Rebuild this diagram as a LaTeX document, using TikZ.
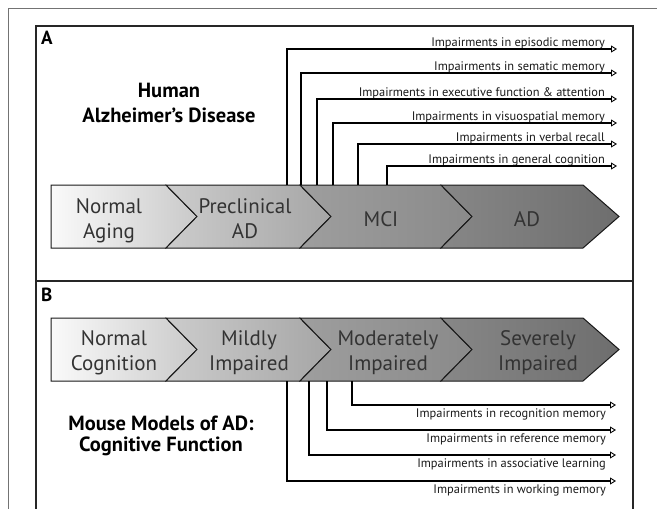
\documentclass[tikz,border=0pt]{standalone}
\usepackage{fontspec}
\setmainfont{PT Sans}
\usetikzlibrary{arrows.meta}

\begin{document}
\begin{tikzpicture}[x=1pt, y=-1pt,
    stage/.style={draw=black!90, line width=1pt},
    stage text/.style={font=\fontsize{21}{25}\selectfont, text=black!80, align=center},
    deficit/.style={font=\fontsize{12.4}{14}\selectfont, text=black!90, inner sep=0pt},
    onset/.style={line width=1.2pt, -{Triangle[open, length=6pt, width=7pt, line width=0.9pt]}},
    heading/.style={font=\bfseries\fontsize{20.5}{25}\selectfont, align=center},
    panel/.style={font=\bfseries\fontsize{19}{22}\selectfont, anchor=north west, inner sep=0pt}
  ]
  \useasboundingbox (0,0) rectangle (657,509);
  \draw[black!55, line width=1pt] (8,509) -- (8,8) -- (657,8);
  \draw[black!85, line width=1.5pt] (36,509) -- (36,26) -- (633,26) -- (633,509);
  \draw[black!85, line width=1.5pt] (36,281) -- (633,281);

  \node[panel] (panel a) at (41,31) {A};
  \node[panel] (panel b) at (41,288) {B};

  % panel A: human stages
  \path[stage, left color=black!2, right color=black!21]
    (51,185) -- (166,185) -- (197,216.5) -- (166,248) -- (51,248) -- cycle;
  \path[stage, left color=black!20, right color=black!35]
    (166,185) -- (300,185) -- (331,216.5) -- (300,248) -- (166,248) -- (197,216.5) -- cycle;
  \path[stage, left color=black!38, right color=black!46]
    (300,185) -- (441,185) -- (472,216.5) -- (441,248) -- (300,248) -- (331,216.5) -- cycle;
  \path[stage, left color=black!47, right color=black!57]
    (441,185) -- (583,185) -- (619,216.5) -- (583,248) -- (441,248) -- (472,216.5) -- cycle;

  \node[stage text, anchor=base] (aging) at (109,238) {Normal\\Aging};
  \node[stage text, anchor=base] (preclinical) at (245,238) {Preclinical\\AD};
  \node[stage text] (mci) at (381,219) {MCI};
  \node[stage text] (ad) at (527,219) {AD};

  \node[heading, anchor=base] (human) at (169,122) {Human\\Alzheimer’s Disease};

  \coordinate (episodic from) at (287,185);
  \coordinate (semantic from) at (301,185);
  \coordinate (executive from) at (317,185);
  \coordinate (visuospatial from) at (333,185);
  \coordinate (verbal from) at (358,185);
  \coordinate (general from) at (387,185);
  \coordinate (episodic to) at (617,49);
  \coordinate (semantic to) at (617,73);
  \coordinate (executive to) at (617,99);
  \coordinate (visuospatial to) at (617,123);
  \coordinate (verbal to) at (617,144);
  \coordinate (general to) at (617,166);

  \node[deficit, anchor=base east] (episodic) at (605,46) {Impairments in episodic memory};
  \node[deficit, anchor=base east] (semantic) at (605,70) {Impairments in sematic memory};
  \node[deficit, anchor=base east] (executive) at (605,96) {Impairments in executive function \& attention};
  \node[deficit, anchor=base east] (visuospatial) at (605,120) {Impairments in visuospatial memory};
  \node[deficit, anchor=base east] (verbal) at (605,141) {Impairments in verbal recall};
  \node[deficit, anchor=base east] (general) at (605,163) {Impairments in general cognition};

  \draw[onset] (episodic from) |- (episodic to);
  \draw[onset] (semantic from) |- (semantic to);
  \draw[onset] (executive from) |- (executive to);
  \draw[onset] (visuospatial from) |- (visuospatial to);
  \draw[onset] (verbal from) |- (verbal to);
  \draw[onset] (general from) |- (general to);

  % panel B: mouse models
  \path[stage, left color=black!2, right color=black!21]
    (51,318) -- (166,318) -- (197,349.5) -- (166,381) -- (51,381) -- cycle;
  \path[stage, left color=black!20, right color=black!35]
    (166,318) -- (300,318) -- (331,349.5) -- (300,381) -- (166,381) -- (197,349.5) -- cycle;
  \path[stage, left color=black!38, right color=black!46]
    (300,318) -- (441,318) -- (472,349.5) -- (441,381) -- (300,381) -- (331,349.5) -- cycle;
  \path[stage, left color=black!47, right color=black!57]
    (441,318) -- (583,318) -- (619,349.5) -- (583,381) -- (441,381) -- (472,349.5) -- cycle;

  \node[stage text, anchor=base] (normal) at (114,370) {Normal\\Cognition};
  \node[stage text, anchor=base] (mild) at (249,370) {Mildly\\Impaired};
  \node[stage text, anchor=base] (moderate) at (388,370) {Moderately\\Impaired};
  \node[stage text, anchor=base] (severe) at (538,370) {Severely\\Impaired};

  \node[heading, font=\bfseries\fontsize{20.5}{21}\selectfont, anchor=base] (mouse) at (161,451) {Mouse Models of AD:\\Cognitive Function};

  \coordinate (recognition from) at (352,381);
  \coordinate (reference from) at (327,381);
  \coordinate (associative from) at (309,381);
  \coordinate (working from) at (287,381);
  \coordinate (recognition to) at (616,405);
  \coordinate (reference to) at (616,430);
  \coordinate (associative to) at (616,455);
  \coordinate (working to) at (616,481);

  \node[deficit, anchor=base east] (recognition) at (606,417) {Impairments in recognition memory};
  \node[deficit, anchor=base east] (reference) at (606,442) {Impairments in reference memory};
  \node[deficit, anchor=base east] (associative) at (606,467) {Impairments in associative learning};
  \node[deficit, anchor=base east] (working) at (606,493) {Impairments in working memory};

  \draw[onset] (recognition from) |- (recognition to);
  \draw[onset] (reference from) |- (reference to);
  \draw[onset] (associative from) |- (associative to);
  \draw[onset] (working from) |- (working to);
\end{tikzpicture}
\end{document}
